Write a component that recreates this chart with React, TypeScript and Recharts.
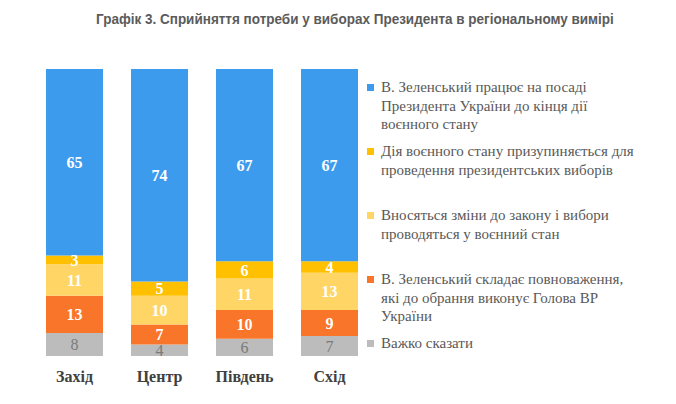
import { BarChart, Bar, XAxis, YAxis, Legend, LabelList } from 'recharts'

const regions = ['Захід', 'Центр', 'Південь', 'Схід']
const stillPresident = [65, 74, 67, 67]
const lawSuspended = [3, 5, 6, 4]
const lawChanged = [11, 10, 11, 13]
const speakerActs = [13, 7, 10, 9]
const hardToSay = [8, 4, 6, 7]

const SERIES = [
  {
    key: 'hardToSay',
    color: '#bcbcbc',
    lines: ['Важко сказати'],
  },
  {
    key: 'speakerActs',
    color: '#f8752a',
    lines: ['В. Зеленський складає повноваження,', 'які до обрання виконує Голова ВР', 'України'],
  },
  {
    key: 'lawChanged',
    color: '#ffd666',
    lines: ['Вносяться зміни до закону і вибори', 'проводяться у воєнний стан'],
  },
  {
    key: 'lawSuspended',
    color: '#ffc000',
    lines: ['Дія воєнного стану призупиняється для', 'проведення президентських виборів'],
  },
  {
    key: 'stillPresident',
    color: '#3d9bee',
    lines: ['В. Зеленський працює на посаді', 'Президента України до кінця дії', 'воєнного стану'],
  },
]

const data = regions.map((name, i) => ({
  name,
  stillPresident: stillPresident[i],
  lawSuspended: lawSuspended[i],
  lawChanged: lawChanged[i],
  speakerActs: speakerActs[i],
  hardToSay: hardToSay[i],
}))

const serif = '"Liberation Serif", "Times New Roman", serif'

function LegendBlock() {
  const items = [...SERIES].reverse()
  return (
    <div style={{ position: 'relative', fontFamily: serif, fontSize: 15, color: '#595959' }}>
      {items.map((s, i) => (
        <div key={s.key} style={{ position: 'absolute', top: i * 64, left: 0, lineHeight: '18.5px', whiteSpace: 'nowrap' }}>
          <span
            style={{
              position: 'absolute',
              left: 0,
              top: 6,
              width: 7,
              height: 7,
              background: s.color,
            }}
          />
          <div style={{ marginLeft: 14 }}>
            {s.lines.map((l) => (
              <div key={l}>{l}</div>
            ))}
          </div>
        </div>
      ))}
    </div>
  )
}

export default function App() {
  return (
    <div style={{ position: 'absolute', left: 0, top: 0, width: 676, height: 404, background: '#fff' }}>
      <div
        style={{
          position: 'absolute',
          left: 96,
          top: 10,
          transform: 'scaleX(0.9)',
          transformOrigin: 'left top',
          fontFamily: '"Liberation Sans", Arial, sans-serif',
          fontWeight: 'bold',
          fontSize: 15,
          color: '#5b5b5b',
          whiteSpace: 'nowrap',
        }}
      >
        Графік 3. Сприйняття потреби у виборах Президента в регіональному вимірі
      </div>
      <BarChart width={676} height={404} data={data} margin={{ top: 69, right: 8, bottom: 18, left: 32 }} barSize={57}>
        <YAxis hide domain={[0, 100]} />
        <XAxis
          dataKey="name"
          axisLine={false}
          tickLine={false}
          tickMargin={9}
          tick={{ fontFamily: serif, fontWeight: 'bold', fontSize: 16, fill: '#404040' }}
        />
        <Legend
          layout="vertical"
          align="right"
          verticalAlign="top"
          width={296}
          height={290}
          wrapperStyle={{ top: 78, left: 367 }}
          content={() => <LegendBlock />}
        />
        {SERIES.map((s) => (
          <Bar key={s.key} dataKey={s.key} stackId="a" fill={s.color} isAnimationActive={false}>
            <LabelList
              dataKey={s.key}
              position="center"
              fill={s.key === 'hardToSay' ? '#7a7a7a' : '#ffffff'}
              style={{
                fontFamily: serif,
                fontSize: 16,
                fontWeight: s.key === 'hardToSay' ? 'normal' : 'bold',
              }}
            />
          </Bar>
        ))}
      </BarChart>
    </div>
  )
}
